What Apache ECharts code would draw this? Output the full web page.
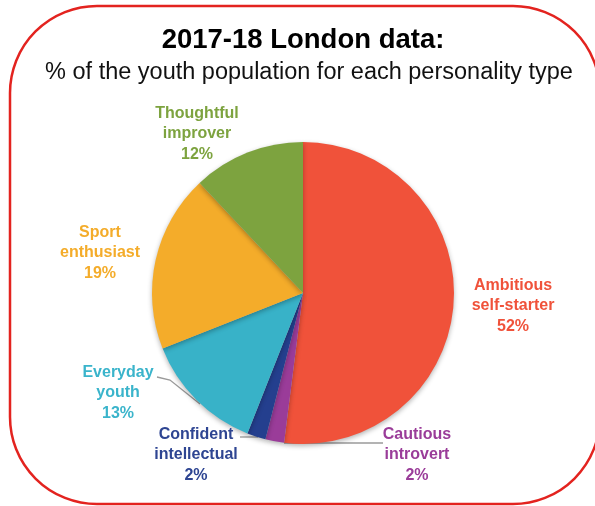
<!DOCTYPE html>
<html>
<head>
<meta charset="utf-8">
<script src="https://cdn.jsdelivr.net/npm/echarts@6/dist/echarts.min.js"></script>
<style>
  html, body { margin: 0; padding: 0; background: #fff; }
  #chart { width: 595px; height: 506px; }
</style>
</head>
<body>
<div id="chart"></div>
<script>
// Personality types of London youth, 2017-18 (percent of population)
const categories = [
  'Ambitious\nself-starter',
  'Cautious\nintrovert',
  'Confident\nintellectual',
  'Everyday\nyouth',
  'Sport\nenthusiast',
  'Thoughtful\nimprover'
];
const shares = [52, 2, 2, 13, 19, 12];
const sliceColors = ['#F0523A', '#9A3C99', '#243F8E', '#38B2C8', '#F4AC2A', '#7DA33F'];
const textColors  = ['#F0523A', '#9A3C99', '#2E4592', '#3AB4CB', '#F4AC2A', '#7DA33F'];

// Where each label block is centred
const labelCentres = [
  [513, 306], [417, 455], [196, 455], [118, 393], [100, 253], [197, 134]
];
// Leader lines for the small / crowded slices (null = no leader)
const leaderLines = [
  null,
  [[284, 443], [383, 443]],
  [[240, 437], [258, 437]],
  [[157, 377], [170, 380], [200, 404]],
  null,
  null
];

const FONT = "'Liberation Sans', Arial, Helvetica, sans-serif";
const chart = echarts.init(document.getElementById('chart'));

chart.setOption({
  animation: false,
  backgroundColor: '#ffffff',
  title: [
    {
      text: '2017-18 London data:',
      left: 298,
      textAlign: 'center',
      top: 21,
      textStyle: { fontFamily: FONT, fontSize: 27.5, fontWeight: 'bold', color: '#000' }
    },
    {
      text: '% of the youth population for each personality type',
      left: 304,
      textAlign: 'center',
      top: 56,
      textStyle: { fontFamily: FONT, fontSize: 23.5, fontWeight: 'normal', color: '#111' }
    }
  ],
  graphic: [
    {
      type: 'rect',
      shape: { x: 10, y: 6, width: 590, height: 498, r: 87 },
      style: { fill: 'none', stroke: '#E3231F', lineWidth: 2.5 },
      z: 0
    }
  ],
  series: [
    {
      type: 'pie',
      center: [303, 293],
      radius: [0, 151],
      startAngle: 90,
      clockwise: true,
      itemStyle: {
        borderWidth: 0,
        shadowBlur: 5,
        shadowColor: 'rgba(0,0,0,0.3)',
        shadowOffsetY: 2
      },
      label: {
        show: true,
        position: 'outside',
        fontFamily: FONT,
        fontSize: 16,
        fontWeight: 'bold',
        lineHeight: 20.5,
        align: 'center',
        formatter: p => p.name + '\n' + p.value + '%'
      },
      labelLine: {
        length: 10,
        length2: 10,
        lineStyle: { color: '#9a9a9a', width: 1.3 }
      },
      labelLayout: params => {
        const i = params.dataIndex;
        const c = labelCentres[i];
        const out = {
          x: c[0],
          y: c[1],
          align: 'center',
          verticalAlign: 'middle',
          moveOverlap: false,
          hideOverlap: false
        };
        if (leaderLines[i]) out.labelLinePoints = leaderLines[i];
        return out;
      },
      data: categories.map((name, i) => ({
        name: name,
        value: shares[i],
        itemStyle: { color: sliceColors[i] },
        label: { color: textColors[i] },
        labelLine: { show: !!leaderLines[i] }
      }))
    }
  ]
});
</script>
</body>
</html>
